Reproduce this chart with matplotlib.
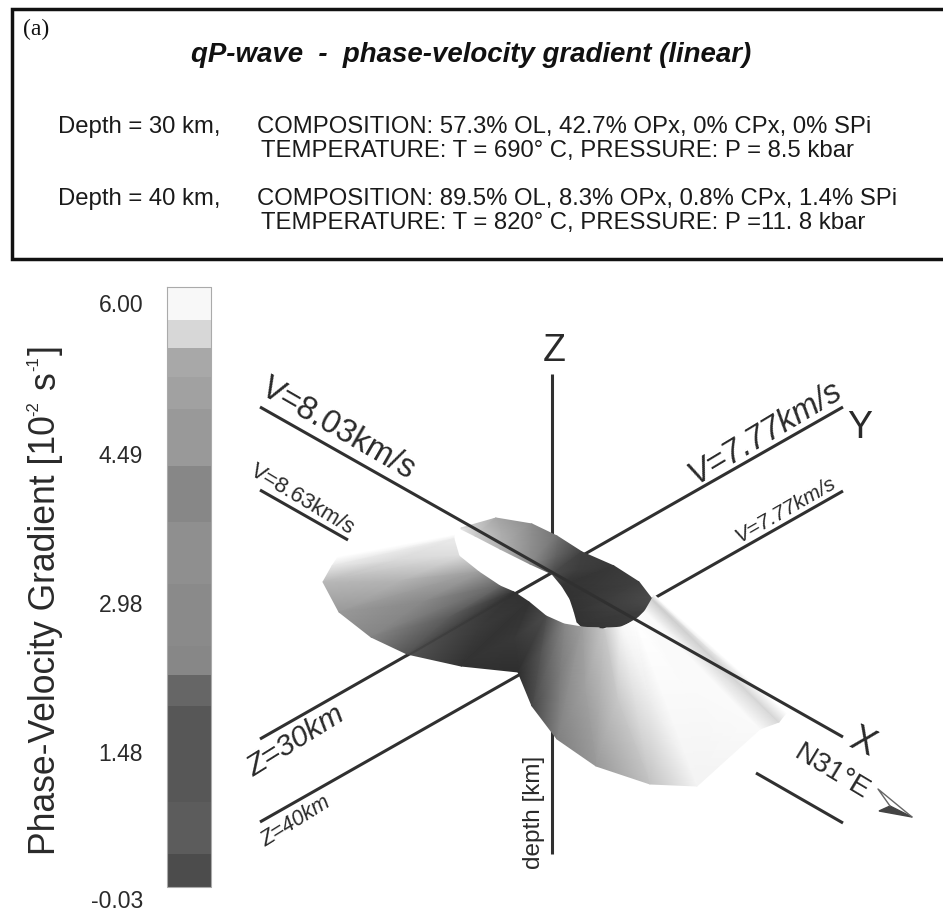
import matplotlib
matplotlib.use('Agg')
import matplotlib.pyplot as plt
import numpy as np

plt.rcParams['font.family'] = ['Liberation Sans', 'DejaVu Sans']

INK = '#2a2a2a'

# colour bar (pixel rows + grey level)
bar_edges = [288, 321, 349, 378, 410, 467, 523, 585, 647, 676, 707, 803, 855, 888]
bar_greys = [0.97, 0.84, 0.66, 0.63, 0.60, 0.53, 0.56, 0.54, 0.53, 0.40, 0.34, 0.36, 0.30]
bar_ticks = ['6.00', '4.49', '2.98', '1.48', '-0.03']
bar_tick_y = [306, 457, 606, 755, 902]

# front sheet of the surface: upper lip, lower rim and grey level along each
front_top_x = [454, 454, 459, 479, 500, 514, 529, 546, 564, 582, 604, 621, 635, 645, 652, 654]
front_top_y = [536, 540, 557, 573, 587, 593, 603, 617, 625, 628, 630, 628, 622, 612, 600, 596]
front_bot_x = [338, 332, 323, 339, 371, 407, 461, 518, 532, 557, 596, 650, 697, 760, 779, 786]
front_bot_y = [558, 567, 583, 613, 638, 655, 667, 673, 707, 740, 767, 785, 787, 730, 723, 714]
front_top_grey = [1.0, 0.92, 0.86, 0.62, 0.40, 0.20, 0.20, 0.30, 0.52, 0.62, 0.78, 0.97, 1.0, 0.98, 0.80, 1.0]
front_bot_grey = [1.0, 0.90, 0.72, 0.60, 0.52, 0.33, 0.20, 0.18, 0.28, 0.50, 0.60, 0.76, 0.95, 0.98, 0.84, 1.0]

# back sheet of the surface
back_out_x = [461, 496, 532, 557, 582, 614, 639, 652, 646, 621]
back_out_y = [529, 519, 525, 537, 553, 567, 583, 600, 613, 628]
back_in_x = [461, 475, 500, 530, 552, 562, 570, 574, 577, 582]
back_in_y = [530, 537, 550, 565, 575, 587, 600, 612, 623, 628]
back_out_grey = [0.85, 0.65, 0.55, 0.45, 0.25, 0.22, 0.25, 0.30, 0.25, 0.22]
back_in_grey = [0.90, 0.80, 0.70, 0.55, 0.30, 0.20, 0.20, 0.20, 0.20, 0.20]

header_lines = [
    ('Depth = 30 km,', 'COMPOSITION: 57.3% OL, 42.7% OPx, 0% CPx, 0% SPi', 'TEMPERATURE: T = 690° C, PRESSURE: P = 8.5 kbar'),
    ('Depth = 40 km,', 'COMPOSITION: 89.5% OL, 8.3% OPx, 0.8% CPx, 1.4% SPi', 'TEMPERATURE: T = 820° C, PRESSURE: P =11. 8 kbar'),
]

fig = plt.figure(figsize=(9.43, 9.12), dpi=100)
ax = fig.add_axes([0, 0, 1, 1])
ax.set_xlim(0, 943)
ax.set_ylim(912, 0)
ax.axis('off')

# header box
ax.plot([944, 12, 12, 944], [10, 10, 260, 260], color='#111111', lw=2.5, solid_joinstyle='miter')
ax.text(23, 29, '(a)', family='Liberation Serif', fontsize=17, color='#111111', ha='left', va='center')
ax.text(471, 55, 'qP-wave  -  phase-velocity gradient (linear)', fontsize=19.9, weight='bold',
        style='italic', color='#111111', ha='center', va='center')
for (d, a, b), y in zip(header_lines, [133, 205]):
    ax.text(58, y, d, fontsize=17.2, color='#1a1a1a', ha='left', va='baseline')
    ax.text(257, y, a, fontsize=17.2, color='#1a1a1a', ha='left', va='baseline')
    ax.text(261, y + 24, b, fontsize=17.2, color='#1a1a1a', ha='left', va='baseline')

# colour bar
ax.pcolormesh([167, 211], bar_edges, np.array(bar_greys).reshape(-1, 1), cmap='gray', vmin=0, vmax=1)
ax.plot([167, 211, 211, 167, 167], [288, 288, 888, 888, 288], color='#aaaaaa', lw=0.8)
for t, y in zip(bar_ticks, bar_tick_y):
    ax.text(143, y, t, fontsize=16.5, color=INK, ha='right', va='center')

# bar title, pieces placed by hand so the superscripts keep a plain hyphen
title_kw = dict(color=INK, rotation=90, rotation_mode='anchor', ha='left', va='baseline')
ax.text(55, 855, 'Phase-Velocity Gradient [10', fontsize=25.6, **title_kw)
ax.text(38, 416, '-2', fontsize=12, **title_kw)
ax.text(55, 389, 's', fontsize=25.6, **title_kw)
ax.text(38, 371, '-1', fontsize=12, **title_kw)
ax.text(55, 355, ']', fontsize=25.6, **title_kw)

# lines behind the surface
line_kw = dict(color='#303030', lw=2.2, solid_capstyle='butt')
ax.plot([552, 552], [375, 573], zorder=1, **line_kw)
ax.plot([552, 552], [700, 855], zorder=1, **line_kw)
ax.plot([843, 260], [408, 740], zorder=1, **line_kw)
ax.plot([843, 260], [492, 823], zorder=1, **line_kw)

# surface
ax.pcolormesh(np.array([back_out_x, back_in_x]), np.array([back_out_y, back_in_y]),
              np.array([back_out_grey, back_in_grey]), shading='gouraud', cmap='gray', vmin=0, vmax=1, zorder=2)
ax.pcolormesh(np.array([front_top_x, front_bot_x]), np.array([front_top_y, front_bot_y]),
              np.array([front_top_grey, front_bot_grey]), shading='gouraud', cmap='gray', vmin=0, vmax=1, zorder=3)

# lines in front of the surface
ax.plot([260, 843], [408, 738], zorder=4, **line_kw)
ax.plot([260, 348], [491, 541], zorder=4, **line_kw)
ax.plot([756, 843], [774, 824], zorder=4, **line_kw)
ax.plot([552, 407], [573, 657], zorder=4, color='#303030', lw=1.6, alpha=0.35)

# labels on the axes
ax.text(338, 429, 'V=8.03km/s', fontsize=23.5, color=INK, rotation=-30, ha='center', va='center')
ax.text(302, 500, 'V=8.63km/s', fontsize=16, color=INK, rotation=-31, ha='center', va='center')
ax.text(765, 433, 'V=7.77km/s', fontsize=23.5, color=INK, style='italic', rotation=31, ha='center', va='center')
ax.text(785, 510, 'V=7.77km/s', fontsize=15.3, color=INK, style='italic', rotation=30, ha='center', va='center')
ax.text(296, 741, 'Z=30km', fontsize=21.7, color=INK, style='italic', rotation=32, ha='center', va='center')
ax.text(296, 822, 'Z=40km', fontsize=15.5, color=INK, style='italic', rotation=32, ha='center', va='center')
ax.text(534, 812, 'depth [km]', fontsize=17.5, color=INK, rotation=90, ha='center', va='center')
ax.text(832, 772, 'N31°E', fontsize=20.5, color=INK, rotation=-31, ha='center', va='center')
ax.text(554, 351, 'Z', fontsize=27, color=INK, ha='center', va='center')
ax.text(860, 428, 'Y', fontsize=27, color=INK, ha='center', va='center')
ax.text(862, 742, 'X', fontsize=26, color=INK, rotation=-25, ha='center', va='center')

# north arrow
ax.fill([890, 912, 879], [807, 818, 812], color='#444444', zorder=4)
ax.plot([890, 878, 912], [807, 790, 818], color='#666666', lw=1, zorder=4)

fig.savefig('out.png', dpi=100)
